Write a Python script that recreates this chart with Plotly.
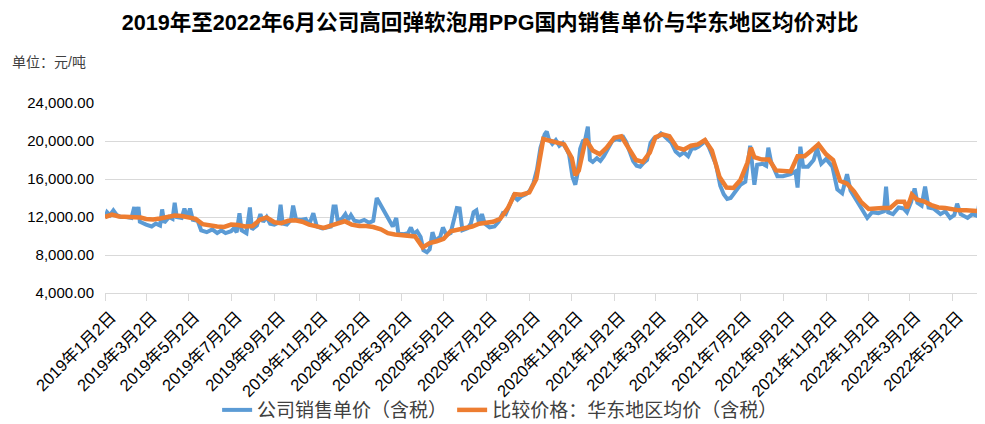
import plotly.graph_objects as go

# ---------------- data ----------------
blue_dates = [
    "2019-01-02","2019-01-05","2019-01-09","2019-01-14","2019-01-19","2019-01-25",
    "2019-02-02","2019-02-09","2019-02-13","2019-02-15","2019-02-19","2019-02-21",
    "2019-03-02","2019-03-10","2019-03-16","2019-03-22","2019-03-25","2019-03-28",
    "2019-04-04","2019-04-09","2019-04-12","2019-04-15","2019-04-22","2019-04-26","2019-04-30",
    "2019-05-04","2019-05-08","2019-05-15","2019-05-20","2019-05-28",
    "2019-06-05","2019-06-12","2019-06-18","2019-06-24",
    "2019-07-02","2019-07-06","2019-07-10","2019-07-14","2019-07-17","2019-07-24","2019-07-29",
    "2019-08-01","2019-08-08","2019-08-13","2019-08-17","2019-08-22","2019-08-27",
    "2019-09-02","2019-09-08","2019-09-11","2019-09-14","2019-09-20","2019-09-26","2019-09-29",
    "2019-10-03","2019-10-10","2019-10-17","2019-10-22","2019-10-28",
    "2019-11-02","2019-11-10","2019-11-17","2019-11-22","2019-11-26","2019-11-29",
    "2019-12-02","2019-12-08","2019-12-13","2019-12-17","2019-12-21","2019-12-26",
    "2020-01-02","2020-01-09","2020-01-16","2020-01-22","2020-01-27",
    "2020-02-19","2020-02-24","2020-02-27",
    "2020-03-05","2020-03-12","2020-03-16","2020-03-20","2020-03-25","2020-03-30",
    "2020-04-03","2020-04-08","2020-04-12","2020-04-16","2020-04-20","2020-04-27",
    "2020-05-01","2020-05-06","2020-05-12","2020-05-21","2020-05-25","2020-05-29",
    "2020-06-05","2020-06-10","2020-06-14","2020-06-18","2020-06-22","2020-06-26","2020-06-30",
    "2020-07-07","2020-07-14","2020-07-20","2020-07-26","2020-07-30",
    "2020-08-05","2020-08-10","2020-08-16","2020-08-22","2020-08-28",
    "2020-09-03","2020-09-08","2020-09-13","2020-09-18","2020-09-24","2020-09-27","2020-09-30",
    "2020-10-05","2020-10-10","2020-10-15","2020-10-20","2020-10-25","2020-10-29",
    "2020-11-03","2020-11-07","2020-11-10","2020-11-14","2020-11-18","2020-11-21","2020-11-25","2020-11-28",
    "2020-12-02","2020-12-08","2020-12-13","2020-12-18","2020-12-24","2020-12-30",
    "2021-01-05","2021-01-10","2021-01-15","2021-01-19","2021-01-24","2021-01-29",
    "2021-02-03","2021-02-08","2021-02-13","2021-02-18","2021-02-23","2021-02-28",
    "2021-03-05","2021-03-10","2021-03-15","2021-03-20","2021-03-25","2021-03-31",
    "2021-04-06","2021-04-12","2021-04-18","2021-04-23","2021-04-28",
    "2021-05-03","2021-05-08","2021-05-13","2021-05-18","2021-05-23","2021-05-28",
    "2021-06-03","2021-06-08","2021-06-13","2021-06-18","2021-06-24","2021-06-30",
    "2021-07-02","2021-07-09","2021-07-16","2021-07-22","2021-07-26",
    "2021-08-03","2021-08-08","2021-08-11","2021-08-15","2021-08-24",
    "2021-09-01","2021-09-11","2021-09-19","2021-09-22","2021-09-26","2021-09-30",
    "2021-10-07","2021-10-15","2021-10-20","2021-10-26",
    "2021-11-02","2021-11-11","2021-11-18","2021-11-25",
    "2021-12-02","2021-12-07","2021-12-14","2021-12-21","2021-12-27","2021-12-31",
    "2022-01-07","2022-01-16","2022-01-24","2022-01-27","2022-01-30",
    "2022-02-06","2022-02-14","2022-02-21","2022-02-26",
    "2022-03-04","2022-03-09","2022-03-13","2022-03-19","2022-03-24","2022-03-29",
    "2022-04-05","2022-04-15","2022-04-22","2022-04-29",
    "2022-05-05","2022-05-09","2022-05-14","2022-05-24","2022-05-31",
    "2022-06-07","2022-06-11","2022-06-16",
]
blue_values = [
    11900,12500,12200,12700,12200,12000,
    12000,11900,13050,12000,13050,11500,
    11200,11000,11300,11100,12800,11400,
    12000,11800,13500,12000,11900,12900,11900,
    12900,11700,11600,10600,10400,
    10700,10300,10600,10300,
    10500,10800,10400,12400,10600,10300,13000,
    10700,11100,12300,11500,12000,11300,
    11200,11400,13300,11300,11200,11700,13200,
    11800,11700,11800,11200,12400,
    11000,10800,10900,11000,13100,13100,
    11600,11800,12300,11700,12200,11600,
    11500,11700,11400,11600,14000,
    11000,11900,10300,
    10200,10300,10900,10200,10500,9900,
    8500,8300,8600,10400,9500,9900,
    10900,10100,10300,12950,12900,10600,
    10800,11300,12500,12700,11300,12300,11300,
    10900,11000,11500,12400,12300,
    13300,14200,13800,14200,14400,
    14800,15600,17000,19300,20700,21000,20200,
    19700,20100,19500,19800,19200,18600,
    16200,15400,16500,19200,20000,20100,21500,18000,
    17800,18200,17900,18400,19200,20000,
    20200,20100,20400,19900,18900,17900,
    17400,17300,17700,18000,19800,20300,
    20400,20800,20500,20200,19800,18900,
    18500,18800,18400,19200,19200,
    19400,19700,20000,19300,18300,17500,
    15300,14400,13900,14000,14600,15200,
    15400,15700,19500,15400,17500,
    17600,17400,19300,17800,16300,
    16300,16500,16800,15100,19400,17300,
    17300,18000,19200,17600,
    18100,17300,14900,14500,
    16500,14800,14000,13200,12400,11900,
    12500,12400,12600,15200,12500,
    12300,13000,12900,12500,
    13600,15000,13500,13200,15200,13000,
    12900,12300,12600,11900,
    12200,13400,12300,11900,12300,
    12100,14000,11800,
]

orange_dates = [
    "2019-01-02","2019-01-12","2019-01-22","2019-02-02","2019-02-12","2019-02-22",
    "2019-03-02","2019-03-12","2019-03-22","2019-04-02","2019-04-12","2019-04-22",
    "2019-05-02","2019-05-12","2019-05-22","2019-06-02","2019-06-12","2019-06-22",
    "2019-07-02","2019-07-12","2019-07-22","2019-08-02","2019-08-12","2019-08-22",
    "2019-09-02","2019-09-12","2019-09-22","2019-10-02","2019-10-12","2019-10-22",
    "2019-11-02","2019-11-12","2019-11-22","2019-12-02","2019-12-12","2019-12-22",
    "2020-01-02","2020-01-12","2020-01-22","2020-02-02","2020-02-12","2020-02-22",
    "2020-03-02","2020-03-12","2020-03-22","2020-04-02","2020-04-12","2020-04-22",
    "2020-05-02","2020-05-12","2020-05-22","2020-06-02","2020-06-12","2020-06-22",
    "2020-07-02","2020-07-12","2020-07-22","2020-08-02","2020-08-12","2020-08-22",
    "2020-09-02","2020-09-12","2020-09-22","2020-10-02","2020-10-12","2020-10-22",
    "2020-11-02","2020-11-07","2020-11-12","2020-11-22","2020-12-02","2020-12-12","2020-12-22",
    "2021-01-02","2021-01-12","2021-01-22","2021-02-02","2021-02-12","2021-02-22",
    "2021-03-02","2021-03-12","2021-03-22","2021-04-02","2021-04-12","2021-04-22",
    "2021-05-02","2021-05-12","2021-05-22","2021-06-02","2021-06-12","2021-06-22",
    "2021-07-02","2021-07-12","2021-07-17","2021-07-22","2021-08-02","2021-08-12","2021-08-22",
    "2021-09-02","2021-09-12","2021-09-22","2021-10-02","2021-10-12","2021-10-22",
    "2021-11-02","2021-11-12","2021-11-22","2021-12-02","2021-12-12","2021-12-22",
    "2022-01-02","2022-01-12","2022-01-22","2022-02-02","2022-02-12","2022-02-22","2022-02-26",
    "2022-03-02","2022-03-05","2022-03-12","2022-03-22","2022-04-02","2022-04-12","2022-04-22",
    "2022-05-02","2022-05-12","2022-05-22","2022-06-02","2022-06-12","2022-06-17",
]
orange_values = [
    12000,12250,12050,12000,12000,11950,
    11800,11750,11850,12000,12150,12100,
    11950,11800,11250,11100,11000,10950,
    11200,11150,11000,11050,11700,11950,
    11450,11350,11600,11650,11500,11200,
    11000,10850,11100,11300,11550,11200,
    11050,11050,10950,10700,10300,10150,
    10100,10050,9950,8800,9250,9450,
    9700,10500,10650,10800,11000,11300,
    11450,11500,11800,12900,14400,14350,
    14600,16000,20200,20000,19900,19650,
    18200,16400,16900,20200,19000,18600,19300,
    20350,20500,19300,18000,17800,18800,
    20400,20700,20500,19300,19100,19500,
    19650,20100,19000,16200,15100,15050,
    15900,17700,19300,18300,18050,18050,16900,
    16800,16800,18400,18400,19000,19650,
    18600,18000,15800,15500,14700,13600,
    12850,12950,12950,12950,13600,13600,12950,
    13700,14350,13850,13650,13250,13000,12950,
    12800,12700,12700,12700,12650,12600,
]

tick_dates = [
    "2019-01-02","2019-03-02","2019-05-02","2019-07-02","2019-09-02","2019-11-02",
    "2020-01-02","2020-03-02","2020-05-02","2020-07-02","2020-09-02","2020-11-02",
    "2021-01-02","2021-03-02","2021-05-02","2021-07-02","2021-09-02","2021-11-02",
    "2022-01-02","2022-03-02","2022-05-02",
]
tick_labels = [
    "2019年1月2日","2019年3月2日","2019年5月2日","2019年7月2日","2019年9月2日","2019年11月2日",
    "2020年1月2日","2020年3月2日","2020年5月2日","2020年7月2日","2020年9月2日","2020年11月2日",
    "2021年1月2日","2021年3月2日","2021年5月2日","2021年7月2日","2021年9月2日","2021年11月2日",
    "2022年1月2日","2022年3月2日","2022年5月2日",
]
y_ticks = [4000, 8000, 12000, 16000, 20000, 24000]

series_names = ["公司销售单价（含税）", "比较价格：华东地区均价（含税）"]
title_text = "2019年至2022年6月公司高回弹软泡用PPG国内销售单价与华东地区均价对比"
unit_text = "单位：元/吨"

# ---------------- figure ----------------
FONT = "Liberation Sans, Arial, Noto Sans CJK SC, sans-serif"
TXT = "#404040"
W, H = 977, 416  # page body has an 8px margin

fig = go.Figure()
fig.add_trace(go.Scatter(
    x=blue_dates, y=blue_values, mode="lines", name=series_names[0],
    line=dict(color="#5B9BD5", width=4),
))
fig.add_trace(go.Scatter(
    x=orange_dates, y=orange_values, mode="lines", name=series_names[1],
    line=dict(color="#ED7D31", width=4.5),
))

fig.update_layout(
    width=W, height=H,
    margin=dict(l=97, r=0, t=95, b=131, autoexpand=False),
    paper_bgcolor="white", plot_bgcolor="white",
    font=dict(family=FONT, color=TXT),
    title=dict(
        text="<b>" + title_text + "</b>",
        font=dict(family="Liberation Sans, Noto Sans CJK SC, sans-serif", size=21.6, color="#000000"),
        x=482 / W, xref="container", xanchor="center",
        y=1 - 14 / H, yref="container", yanchor="middle",
    ),
    showlegend=True,
    legend=dict(
        orientation="h", x=0.449, xanchor="center", y=-0.616, yanchor="middle",
        font=dict(size=19, color=TXT), bgcolor="rgba(0,0,0,0)",
    ),
    annotations=[dict(
        text=unit_text, xref="paper", yref="paper",
        x=(10 - 105) / 880, y=(293 - 62) / 190, xanchor="left", yanchor="middle",
        showarrow=False, font=dict(size=14, color=TXT),
    )],
)

fig.update_xaxes(
    type="date", range=["2019-01-02", "2022-06-18"],
    tickmode="array", tickvals=tick_dates, ticktext=tick_labels, tickangle=-45,
    tickfont=dict(size=16.5, color="#000000"), ticklabelshift=6,
    showgrid=False, showline=True, linecolor="#d9d9d9", linewidth=1,
    ticks="outside", ticklen=7, tickcolor="#d9d9d9", tickwidth=1,
    zeroline=False, automargin=False,
)
fig.update_yaxes(
    range=[4000, 24000], tickmode="array", tickvals=y_ticks, tickformat=",.2f",
    tickfont=dict(size=15, color="#000000"),
    showgrid=True, gridcolor="#d9d9d9", gridwidth=1,
    showline=False, zeroline=False, ticks="", ticklabelstandoff=10, automargin=False,
)

fig.write_html("out.html")
